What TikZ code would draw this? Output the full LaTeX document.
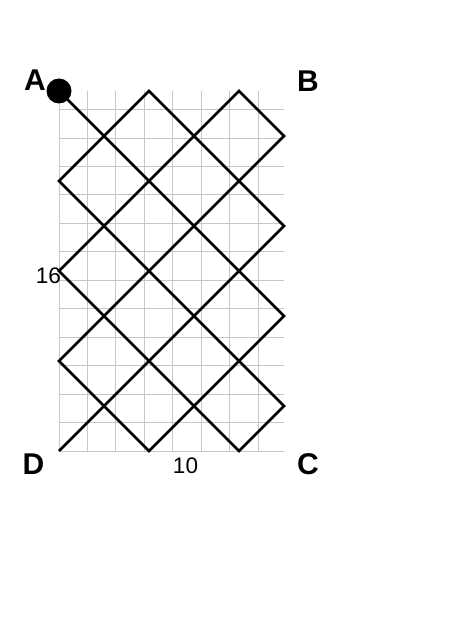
\documentclass[tikz,border=0pt]{standalone}
\usepackage{fontspec}
\setmainfont{Liberation Sans}
\tikzset{
  corner/.style={font=\bfseries\fontsize{30}{30}\selectfont, inner sep=0pt},
  dimlabel/.style={font=\fontsize{22.5}{22.5}\selectfont, inner sep=0pt},
  gridline/.style={draw=black!22, line width=0.9pt},
  bouncepath/.style={draw=black, line width=2.6pt, line join=miter},
}
\begin{document}
\begin{tikzpicture}[x=1pt,y=-1pt]
\useasboundingbox (0,0) rectangle (474,620);
\fill[white] (0,0) rectangle (474,620);
\begin{scope}[shift={(59,451)}, x=22.5pt, y=22.5pt]
  \draw[gridline] (0,0) grid (10,16);
  \coordinate (p0) at (0,16);
  \coordinate (p1) at (10,6);
  \coordinate (p2) at (4,0);
  \coordinate (p3) at (0,4);
  \coordinate (p4) at (10,14);
  \coordinate (p5) at (8,16);
  \coordinate (p6) at (0,8);
  \coordinate (p7) at (8,0);
  \coordinate (p8) at (10,2);
  \coordinate (p9) at (0,12);
  \coordinate (p10) at (4,16);
  \coordinate (p11) at (10,10);
  \coordinate (p12) at (0,0);
  \draw[bouncepath] (p0) -- (p1) -- (p2) -- (p3) -- (p4) -- (p5) -- (p6) -- (p7) -- (p8) -- (p9) -- (p10) -- (p11) -- (p12);
  \fill[black] (p0) circle[radius=12.5pt];
\end{scope}
\node[corner] (A) at (35,80.5) {A};
\node[corner] (B) at (308,81) {B};
\node[corner] (D) at (33.5,464.5) {D};
\node[corner] (C) at (308,464.5) {C};
\node[dimlabel] (h) at (48.5,275.5) {16};
\node[dimlabel] (w) at (185.5,466) {10};
\end{tikzpicture}
\end{document}
